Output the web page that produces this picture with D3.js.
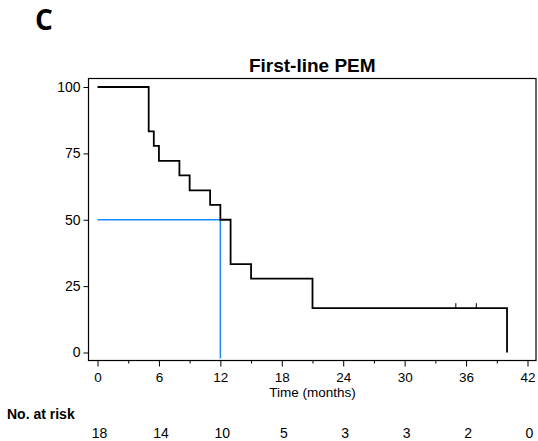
<!DOCTYPE html>
<html>
<head>
<meta charset="utf-8">
<script src="https://cdn.jsdelivr.net/npm/d3@7"></script>
<style>
  body { margin: 0; background: #fff; }
  svg { display: block; }
</style>
</head>
<body>
<div id="chart"></div>
<script>
// Données de la courbe (Kaplan-Meier)
const stepTimes = [0, 5, 5.5, 6, 8, 9, 11, 12, 13, 15, 21, 40];
const stepSurv = [100, 83.3, 77.8, 72.2, 66.7, 61.1, 55.6, 50, 33.3, 27.8, 16.7, 0];
const censorTimes = [35, 37];
const censorSurv = [16.7, 16.7];
const medianTime = 12;
const medianSurv = 50;
const xTicks = [0, 6, 12, 18, 24, 30, 36, 42];
const xMinorTicks = [3, 9, 15, 21, 27, 33, 39];
const yTicks = [0, 25, 50, 75, 100];
const atRisk = [18, 14, 10, 5, 3, 3, 2, 0];

const WIDTH = 538;
const HEIGHT = 441;
const BOX = { left: 88.5, top: 78.5, right: 536, bottom: 360.5 };
const FONT = '"Liberation Sans", Arial, sans-serif';

const svg = d3.select('#chart').append('svg')
    .attr('width', WIDTH)
    .attr('height', HEIGHT);

const x = d3.scaleLinear().domain([0, 42]).range([97.5, 527.5]);
const y = d3.scaleLinear().domain([0, 100]).range([352.5, 87]);

// Lettre du panneau
svg.append('text')
    .attr('x', 35)
    .attr('y', 30)
    .attr('font-family', '"Open Sans", sans-serif')
    .attr('font-weight', 'bold')
    .attr('font-size', 28)
    .text('C');

// Titre
svg.append('text')
    .attr('x', (BOX.left + BOX.right) / 2)
    .attr('y', 71.5)
    .attr('text-anchor', 'middle')
    .attr('font-family', FONT)
    .attr('font-weight', 'bold')
    .attr('font-size', 19)
    .text('First-line PEM');

// Cadre
svg.append('rect')
    .attr('x', BOX.left)
    .attr('y', BOX.top)
    .attr('width', BOX.right - BOX.left)
    .attr('height', BOX.bottom - BOX.top)
    .attr('fill', 'none')
    .attr('stroke', '#000')
    .attr('stroke-width', 1.2);

// Axe Y
const yAxis = svg.append('g')
    .attr('transform', `translate(${BOX.left},0)`)
    .call(d3.axisLeft(y).tickValues(yTicks).tickSize(5).tickPadding(3));
yAxis.select('.domain').remove();
yAxis.selectAll('text').attr('font-family', FONT).attr('font-size', 14).attr('fill', '#000');

// Axe X
const xAxis = svg.append('g')
    .attr('transform', `translate(0,${BOX.bottom})`)
    .call(d3.axisBottom(x).tickValues(xTicks).tickSize(6).tickPadding(2));
xAxis.select('.domain').remove();
xAxis.selectAll('text')
    .attr('font-family', FONT)
    .attr('font-size', 13.5)
    .attr('fill', '#000')
    .attr('dy', null)
    .attr('y', 21);

const xMinor = svg.append('g')
    .attr('transform', `translate(0,${BOX.bottom})`)
    .call(d3.axisBottom(x).tickValues(xMinorTicks).tickSize(3).tickFormat(''));
xMinor.select('.domain').remove();

svg.append('text')
    .attr('x', x(21))
    .attr('y', 397)
    .attr('text-anchor', 'middle')
    .attr('font-family', FONT)
    .attr('font-size', 13.5)
    .text('Time (months)');

// Ligne médiane (bleue)
svg.append('path')
    .attr('d', d3.line()([
        [x(0), y(medianSurv)],
        [x(medianTime), y(medianSurv)],
        [x(medianTime), BOX.bottom - 2]
    ]))
    .attr('fill', 'none')
    .attr('stroke', '#1a8cff')
    .attr('stroke-width', 1.5);

// Courbe de survie
const steps = stepTimes.map((t, i) => [t, stepSurv[i]]);
svg.append('path')
    .attr('d', d3.line()
        .x(d => x(d[0]))
        .y(d => y(d[1]))
        .curve(d3.curveStepAfter)(steps))
    .attr('fill', 'none')
    .attr('stroke', '#000')
    .attr('stroke-width', 1.8);

// Censures
svg.selectAll('.censor')
    .data(censorTimes)
    .enter()
    .append('line')
    .attr('x1', d => x(d))
    .attr('x2', d => x(d))
    .attr('y1', (d, i) => y(censorSurv[i]))
    .attr('y2', (d, i) => y(censorSurv[i]) - 5)
    .attr('stroke', '#000')
    .attr('stroke-width', 1);

// Nombre à risque
svg.append('text')
    .attr('x', 7)
    .attr('y', 419)
    .attr('font-family', FONT)
    .attr('font-weight', 'bold')
    .attr('font-size', 14)
    .text('No. at risk');

svg.selectAll('.risk')
    .data(atRisk)
    .enter()
    .append('text')
    .attr('x', (d, i) => x(xTicks[i]) + 2)
    .attr('y', 438)
    .attr('text-anchor', 'middle')
    .attr('font-family', FONT)
    .attr('font-size', 14)
    .text(d => d);
</script>
</body>
</html>
